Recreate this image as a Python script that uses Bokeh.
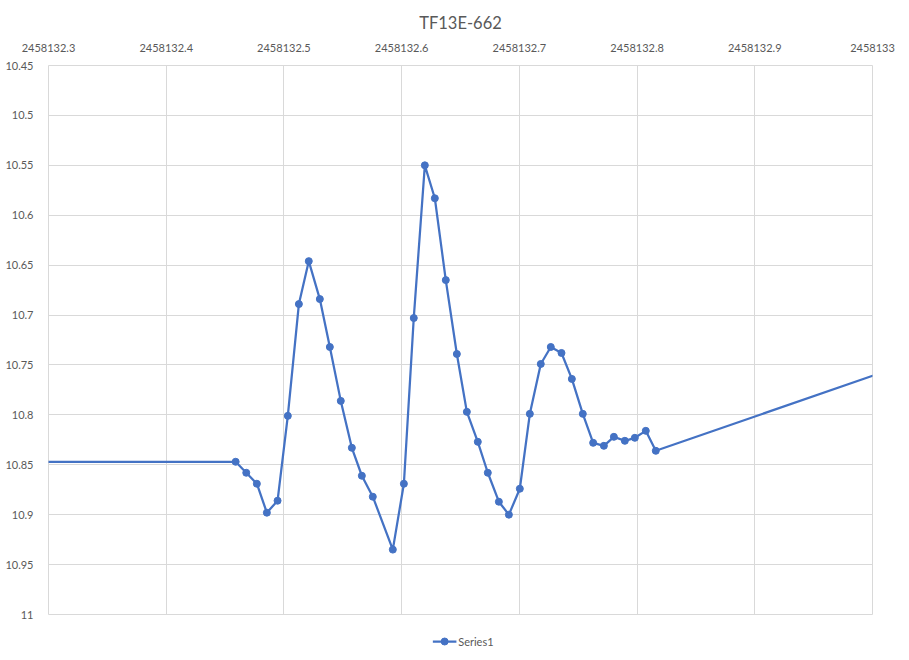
from bokeh.plotting import figure
from bokeh.layouts import column
from bokeh.models import FixedTicker, CustomJSTickFormatter
from bokeh.core.properties import value
from bokeh.embed import file_html
from bokeh.resources import INLINE

title_text = "TF13E-662"
series_name = "Series1"

x_ticks = [2458132.3, 2458132.4, 2458132.5, 2458132.6, 2458132.7, 2458132.8, 2458132.9, 2458133.0]
y_ticks = [10.45, 10.5, 10.55, 10.6, 10.65, 10.7, 10.75, 10.8, 10.85, 10.9, 10.95, 11.0]

jd = [2458132.1, 2458132.459, 2458132.468, 2458132.477, 2458132.4855, 2458132.4946,
      2458132.5033, 2458132.5127, 2458132.5211, 2458132.5305, 2458132.539, 2458132.5483,
      2458132.5577, 2458132.5662, 2458132.5755, 2458132.5925, 2458132.6019, 2458132.6103,
      2458132.6197, 2458132.6282, 2458132.6375, 2458132.6469, 2458132.6554, 2458132.6647,
      2458132.6732, 2458132.6826, 2458132.6911, 2458132.7004, 2458132.7089, 2458132.7182,
      2458132.7267, 2458132.7358, 2458132.7446, 2458132.7539, 2458132.7627, 2458132.7718,
      2458132.7803, 2458132.7896, 2458132.7981, 2458132.8074, 2458132.8159, 2458133.1]
mag = [10.847, 10.847, 10.858, 10.869, 10.898, 10.886,
       10.801, 10.689, 10.646, 10.684, 10.732, 10.786,
       10.833, 10.861, 10.882, 10.935, 10.869, 10.703,
       10.550, 10.583, 10.665, 10.739, 10.797, 10.827,
       10.858, 10.887, 10.900, 10.874, 10.799, 10.749,
       10.732, 10.738, 10.764, 10.799, 10.828, 10.831,
       10.822, 10.826, 10.823, 10.816, 10.836, 10.720]

FONT = "Lato"
GREY = "#595959"
GRID = "#d9d9d9"
BLUE = "#4472C4"

p = figure(width=909, height=634, x_range=(x_ticks[0], x_ticks[-1]), y_range=(y_ticks[-1], y_ticks[0]),
           x_axis_location="above", output_backend="svg", toolbar_location=None,
           min_border_left=48, min_border_right=37, min_border_top=65, min_border_bottom=20)

p.title.text = title_text
p.title.align = "center"
p.title.text_font = FONT
p.title.text_font_size = "16.5px"
p.title.text_font_style = "normal"
p.title.text_color = GREY
p.title.offset = 0
p.title.standoff = 15

p.line(jd, mag, line_color=BLUE, line_width=2.25)
p.scatter(jd, mag, size=7, fill_color=BLUE, line_color=BLUE)

for ax, ticks, digits in ((p.xaxis[0], x_ticks, 1), (p.yaxis[0], y_ticks, 2)):
    ax.ticker = FixedTicker(ticks=ticks)
    ax.formatter = CustomJSTickFormatter(code="return String(Number(tick.toFixed(%d)));" % digits)
    ax.axis_line_color = None
    ax.major_tick_line_color = None
    ax.minor_tick_line_color = None
    ax.major_label_text_font = FONT
    ax.major_label_text_font_size = "11px"
    ax.major_label_text_color = GREY

p.xaxis[0].major_label_standoff = 8
p.yaxis[0].major_label_standoff = 9

p.xgrid.ticker = FixedTicker(ticks=x_ticks)
p.ygrid.ticker = FixedTicker(ticks=y_ticks)
p.grid.grid_line_color = GRID
p.grid.grid_line_width = 1
p.outline_line_color = GRID

# legend strip below the chart (coordinates in pixels of this strip)
lf = figure(width=909, height=26, x_range=(0, 909), y_range=(26, 0), output_backend="svg",
            toolbar_location=None, min_border=0, min_border_left=0, min_border_right=0,
            min_border_top=0, min_border_bottom=0)
lf.axis.visible = False
lf.grid.visible = False
lf.outline_line_color = None
lf.line([424, 450], [7, 7], line_color=BLUE, line_width=2.25)
lf.scatter([437], [7], size=7, fill_color=BLUE, line_color=BLUE)
lf.text([452], [7], text=[series_name], text_font=value(FONT), text_font_size="11px",
        text_color=GREY, text_baseline="middle", text_align="left")

layout = column(p, lf, spacing=0)
open("out.html", "w").write(file_html(layout, INLINE))
